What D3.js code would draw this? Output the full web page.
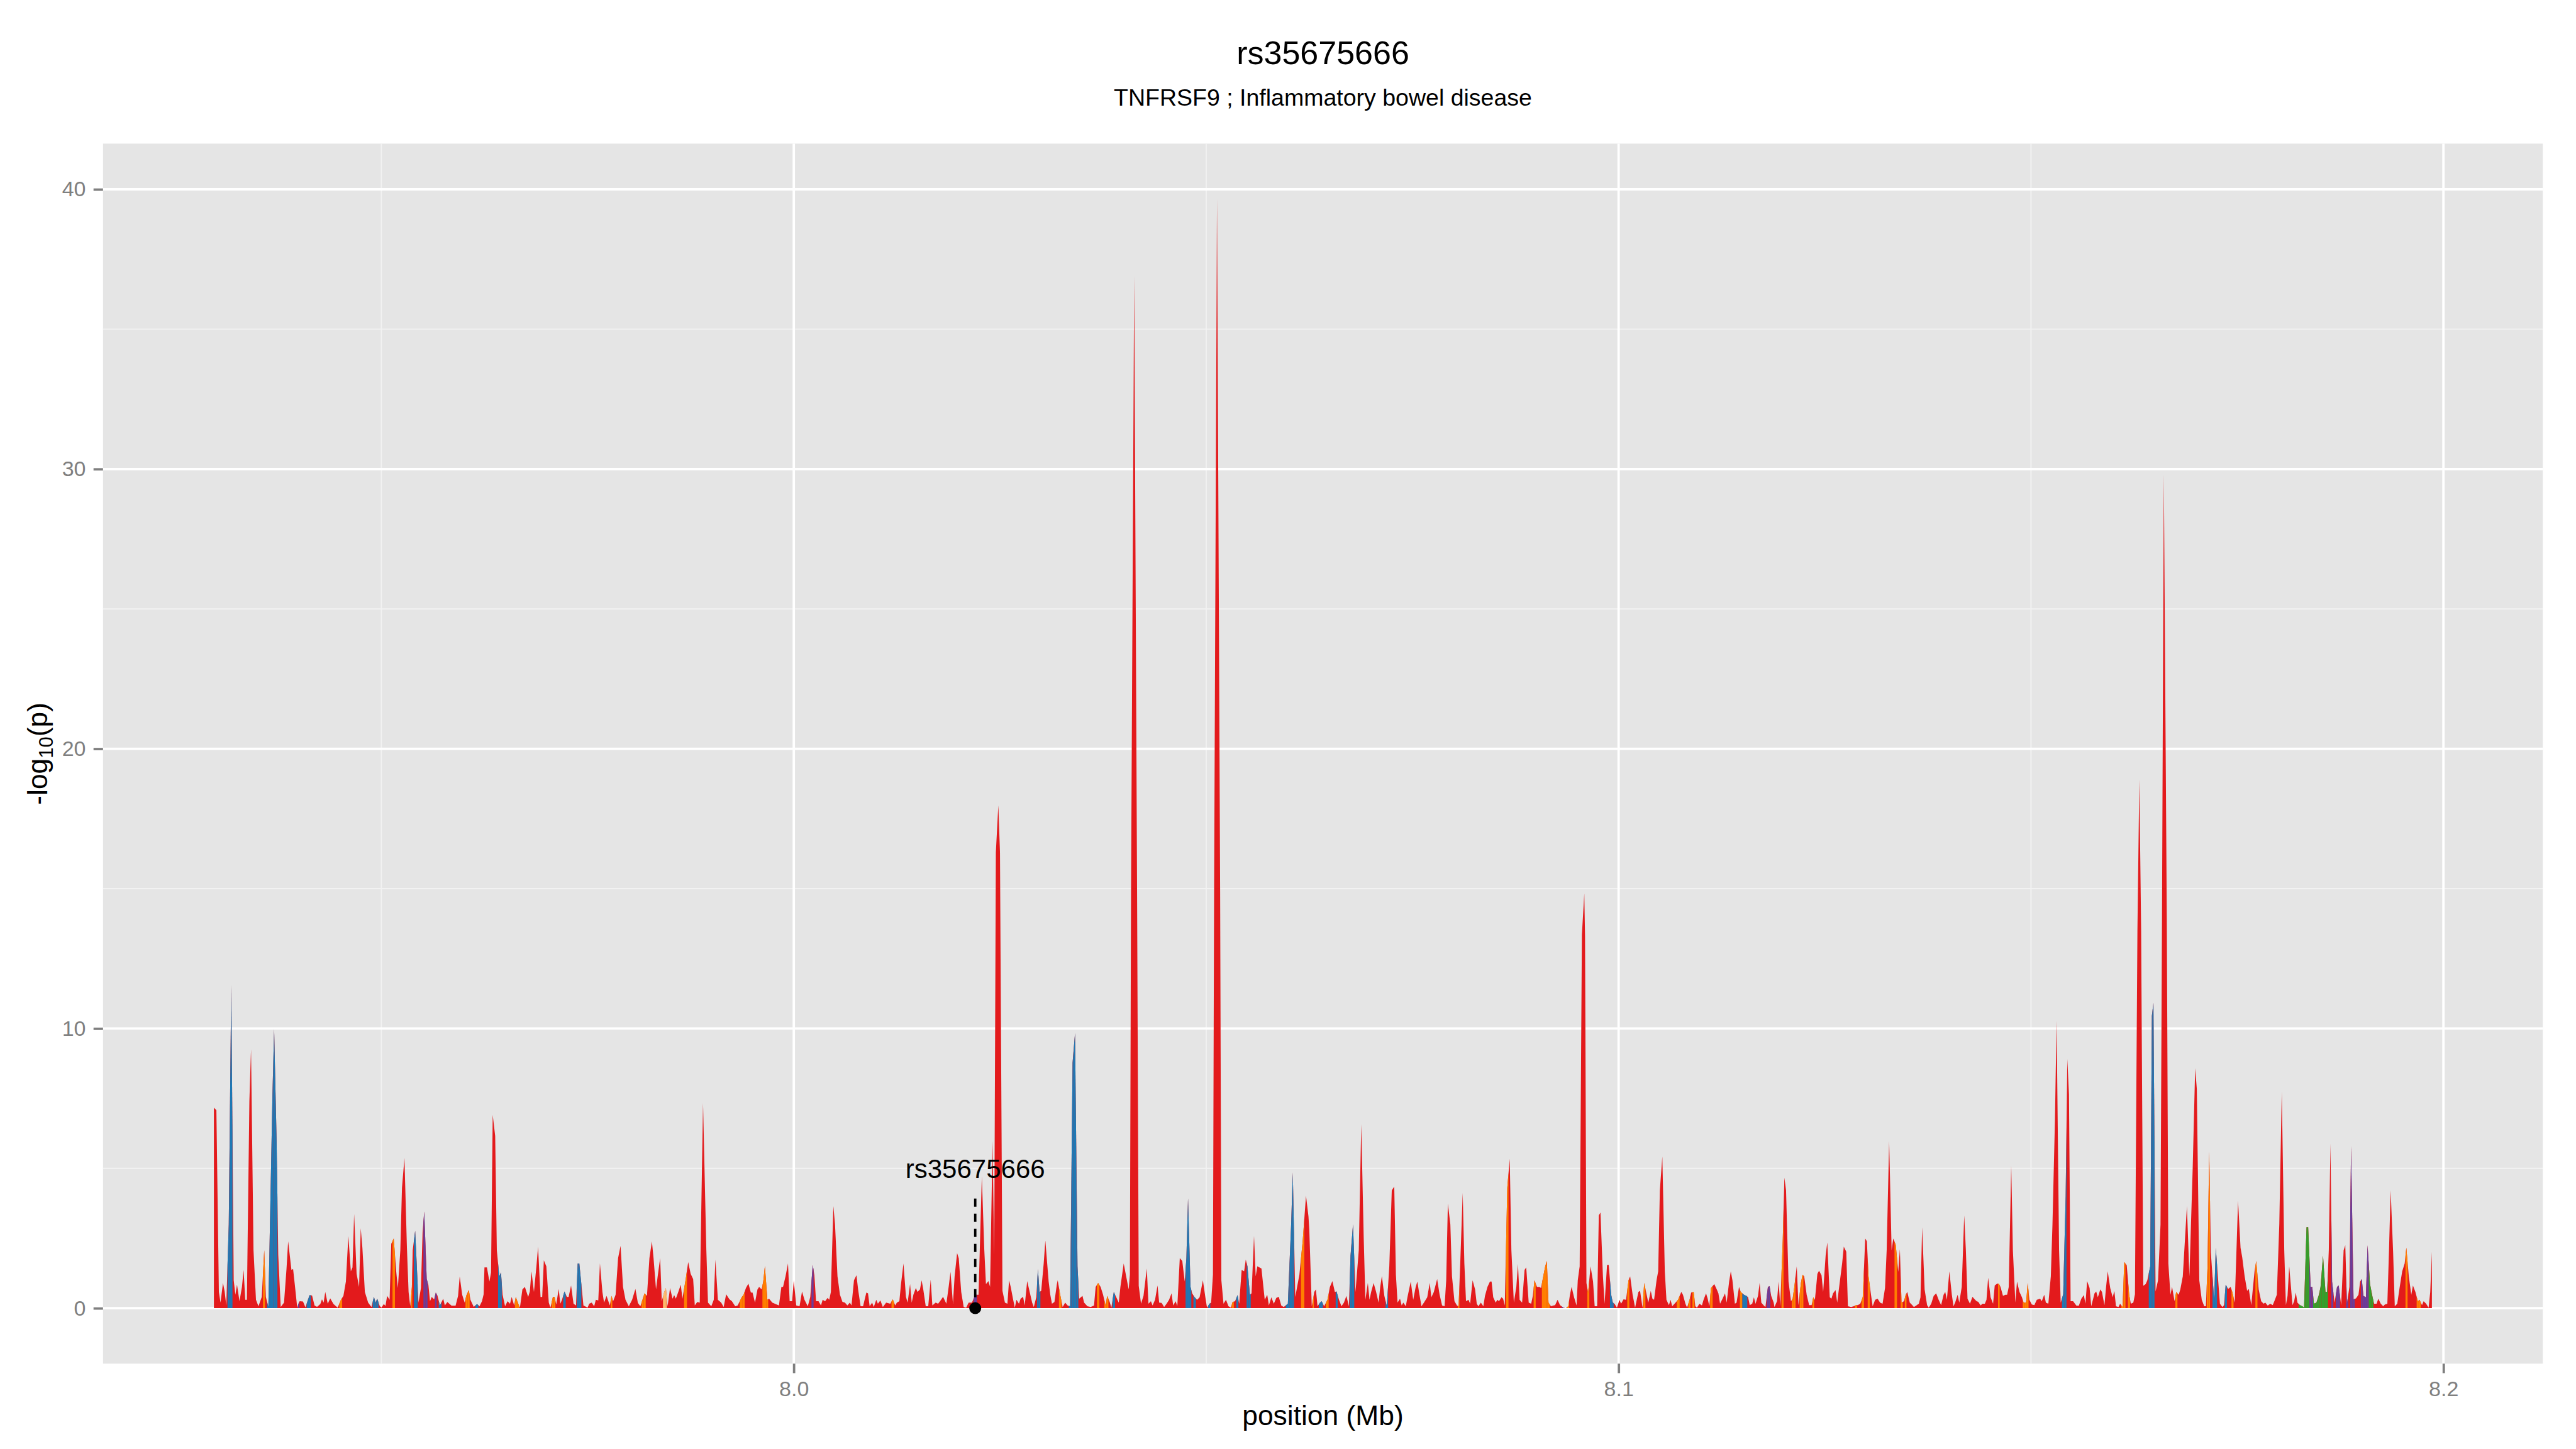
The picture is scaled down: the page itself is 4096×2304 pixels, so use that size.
<!DOCTYPE html>
<html>
<head>
<meta charset="utf-8">
<script src="https://cdn.jsdelivr.net/npm/d3@7"></script>
<style>
  html, body { margin: 0; padding: 0; background: #ffffff; }
  svg { display: block; font-family: "Liberation Sans", Arial, Helvetica, sans-serif; }
</style>
</head>
<body>
<div id="chart"></div>
<script>
const TITLE = "rs35675666"
const SUBTITLE = "TNFRSF9 ; Inflammatory bowel disease"
const LEAD_SNP = { name: "rs35675666", kb: 8022.0, logp: 0 }

// SNP positions (kb) and -log10(p) left to right
const kbA = [
  7929.7, 7930.0, 7930.3, 7930.5, 7930.8, 7931.0, 7931.2, 7931.5, 7931.8, 7932.1,
  7932.3, 7932.5, 7932.8, 7933.1, 7933.3, 7933.5, 7933.7, 7934.0, 7934.2, 7934.5,
  7934.8, 7935.1, 7935.5, 7935.8, 7936.0, 7936.3, 7936.8, 7937.0, 7937.3, 7937.5,
  7937.8, 7938.2, 7938.5, 7938.7, 7939.1, 7939.3, 7939.5, 7939.8, 7940.0, 7940.1,
  7940.5, 7940.8, 7941.1, 7941.3, 7941.6, 7941.9, 7942.2, 7942.6, 7942.8, 7943.0,
  7943.2, 7943.5, 7943.8, 7944.2, 7944.7, 7945.1, 7945.4, 7945.7, 7946.0, 7946.3,
  7946.5, 7946.7, 7947.0, 7947.3, 7947.5, 7947.7, 7948.0, 7948.4, 7948.8, 7949.1,
  7949.3, 7949.5, 7949.8, 7950.0, 7950.3, 7950.5, 7950.7, 7951.0, 7951.2, 7951.5,
  7951.8, 7952.0, 7952.3, 7952.5, 7952.8, 7953.1, 7953.3, 7953.5, 7953.7, 7953.8,
  7954.1, 7954.3, 7954.5, 7954.8, 7955.0, 7955.2, 7955.5, 7955.7, 7955.9, 7956.1,
  7956.4, 7956.6, 7956.8, 7957.1, 7957.5, 7957.7, 7958.0, 7958.5, 7959.0, 7959.3,
  7959.5, 7959.8, 7960.1, 7960.3, 7960.6, 7960.8, 7961.2, 7961.6, 7961.9, 7962.2,
  7962.4, 7962.5, 7962.8, 7963.1, 7963.3, 7963.5, 7963.8, 7964.0, 7964.3, 7964.5,
  7964.7, 7965.0, 7965.3, 7965.6, 7965.8, 7966.1, 7966.3, 7966.6, 7966.8, 7967.1,
  7967.4, 7967.8, 7968.0, 7968.2, 7968.5, 7968.8, 7969.0, 7969.3, 7969.5, 7969.7,
  7970.0, 7970.3, 7970.5, 7970.8, 7971.0, 7971.2, 7971.5, 7971.7, 7971.9, 7972.2,
  7972.5, 7972.7, 7973.0, 7973.3, 7973.6, 7973.8, 7974.0
]
const logpA = [
  7.17, 7.08, 0.58, 0.2, 0.9, 0.6, 0.1, 3.0, 11.56, 1.0,
  0.48, 0.84, 0.25, 0.76, 1.37, 0.3, 0.3, 7.4, 9.26, 2.07,
  0.3, 0.07, 0.4, 2.07, 0.4, 0.04, 7.65, 9.98, 6.0, 1.9,
  0.04, 0.2, 1.4, 2.39, 1.37, 1.4, 0.86, 0.02, 0.2, 0.25,
  0.24, 0.03, 0.3, 0.47, 0.45, 0.1, 0.05, 0.15, 0.32, 0.2,
  0.58, 0.16, 0.35, 0.15, 0.02, 0.3, 0.44, 0.95, 2.58, 1.32,
  1.46, 3.37, 1.23, 0.76, 2.86, 2.16, 0.58, 0.2, 0.04, 0.41,
  0.2, 0.34, 0.08, 0.02, 0.15, 0.08, 0.44, 0.3, 2.3, 2.49,
  1.32, 0.72, 2.07, 4.3, 5.37, 2.16, 0.58, 0.07, 0.76, 2.07,
  2.77, 1.5, 0.2, 0.72, 2.72, 3.46, 1.04, 0.84, 0.25, 0.4,
  0.32, 0.56, 0.45, 0.1, 0.34, 0.1, 0.22, 0.09, 0.09, 0.44,
  1.14, 0.48, 0.2, 0.45, 0.65, 0.3, 0.05, 0.15, 0.07, 0.25,
  0.5, 1.46, 1.46, 0.95, 1.28, 6.91, 6.16, 2.07, 1.14, 1.28,
  0.48, 0.07, 0.25, 0.16, 0.4, 0.1, 0.4, 0.16, 0.02, 0.67,
  0.76, 0.4, 0.6, 1.32, 0.58, 1.5, 2.2, 0.4, 0.4, 1.71,
  1.5, 0.2, 0.02, 0.41, 0.41, 0.13, 0.69, 0.16, 0.3, 0.6,
  0.4, 0.4, 0.81, 0.16, 0.1, 1.6, 1.6
]

const kbB = [
  7974.5, 7975.0, 7975.2, 7975.5, 7975.8, 7976.0, 7976.3, 7976.5, 7976.8, 7977.0,
  7977.3, 7977.7, 7977.9, 7978.1, 7978.4, 7978.7, 7979.0, 7979.3, 7979.6, 7980.0,
  7980.4, 7980.8, 7981.1, 7981.4, 7981.7, 7981.9, 7982.2, 7982.5, 7982.8, 7983.0,
  7983.3, 7983.5, 7983.8, 7984.0, 7984.3, 7984.5, 7984.7, 7985.0, 7985.3, 7985.5,
  7985.7, 7986.0, 7986.3, 7986.5, 7986.9, 7987.2, 7987.5, 7987.8, 7988.0, 7988.3,
  7988.6, 7989.0, 7989.4, 7989.6, 7990.0, 7990.3, 7990.5, 7990.8, 7991.2, 7991.5,
  7991.8, 7992.2, 7992.5, 7992.9, 7993.2, 7993.7, 7993.9, 7994.2, 7994.5, 7994.8,
  7995.0, 7995.3, 7995.6, 7995.8, 7996.1, 7996.3, 7996.5, 7996.8, 7997.0, 7997.4,
  7997.8, 7998.2, 7998.5, 7998.7, 7999.0, 7999.3, 7999.5, 7999.8, 8000.0, 8000.3,
  8000.7, 8001.0, 8001.3, 8001.7, 8002.0, 8002.3, 8002.5, 8002.7, 8003.0, 8003.3,
  8003.5, 8003.8, 8004.1, 8004.3, 8004.5, 8004.8, 8005.0, 8005.3, 8005.6, 8005.9,
  8006.2, 8006.5, 8006.8, 8007.0, 8007.3, 8007.6, 8007.8, 8008.1, 8008.4, 8008.8,
  8009.0, 8009.2, 8009.5, 8009.7, 8010.0, 8010.2, 8010.5, 8010.8, 8011.2, 8011.7,
  8012.0, 8012.3, 8012.5, 8012.8, 8013.0, 8013.3, 8013.6, 8013.8, 8014.1, 8014.3,
  8014.5, 8014.8, 8015.0, 8015.3, 8015.5, 8015.7, 8016.0, 8016.3, 8016.6, 8016.8,
  8017.2, 8017.5, 8017.8, 8018.1
]
const logpB = [
  0.1, 0.02, 0.16, 0.2, 0.07, 0.3, 0.28, 1.6, 0.58, 0.2,
  0.44, 0.1, 0.44, 0.25, 0.48, 1.79, 2.23, 0.76, 0.3, 0.07,
  0.3, 0.69, 0.19, 0.07, 0.34, 0.53, 0.44, 1.79, 2.39, 1.79,
  0.67, 1.14, 1.79, 0.25, 0.58, 0.72, 0.07, 0.72, 0.34, 0.47,
  0.34, 0.58, 0.84, 0.34, 1.04, 1.65, 1.23, 1.04, 0.1, 0.22,
  0.2, 7.33, 2.07, 0.2, 0.07, 0.3, 1.74, 0.3, 0.2, 0.04,
  0.5, 0.32, 0.25, 0.07, 0.1, 0.4, 0.47, 0.72, 0.88, 0.56,
  0.56, 0.2, 0.67, 0.76, 0.67, 0.95, 1.51, 0.3, 0.34, 0.2,
  0.15, 0.1, 0.76, 0.76, 1.14, 1.6, 0.25, 0.25, 1.0, 0.1,
  0.07, 0.6, 0.3, 0.07, 0.4, 1.55, 1.18, 0.25, 0.25, 0.1,
  0.3, 0.25, 0.37, 0.3, 0.58, 3.65, 3.0, 1.14, 0.48, 0.23,
  0.2, 0.1, 0.2, 0.1, 1.0, 1.18, 0.67, 0.07, 0.07, 0.56,
  0.53, 0.07, 0.2, 0.04, 0.3, 0.16, 0.28, 0.04, 0.2, 0.16,
  0.32, 0.1, 0.2, 0.25, 0.86, 1.6, 0.41, 0.2, 0.86, 0.2,
  0.48, 0.72, 0.58, 0.67, 1.0, 0.67, 0.07, 0.07, 1.02, 0.1,
  0.2, 0.16, 0.28, 0.41
]

const kbC = [
  8018.5, 8018.8, 8019.0, 8019.3, 8019.5, 8019.8, 8020.0, 8020.3, 8020.6, 8020.9,
  8021.2, 8021.6, 8022.0, 8022.4, 8022.8, 8023.1, 8023.3, 8023.6, 8023.8, 8024.1,
  8024.3, 8024.5, 8024.8, 8025.0, 8025.3, 8025.6, 8025.9, 8026.1, 8026.3, 8026.6,
  8026.8, 8027.0, 8027.3, 8027.5, 8027.8, 8028.0, 8028.3, 8028.6, 8028.9, 8029.1,
  8029.4, 8029.6, 8029.8, 8030.0, 8030.3, 8030.5, 8030.9, 8031.1, 8031.3, 8031.6,
  8031.9, 8032.0, 8032.3, 8032.6, 8032.9, 8033.2, 8033.5, 8033.8, 8034.1, 8034.4,
  8034.6, 8035.0, 8035.2, 8035.6, 8036.0, 8036.4, 8036.6, 8036.9, 8037.2, 8037.5,
  8037.8, 8038.0, 8038.3, 8038.5, 8038.8, 8039.1, 8039.4, 8039.6, 8040.0, 8040.3,
  8040.6, 8040.75, 8040.89, 8041.27, 8041.62, 8041.82, 8042.1, 8042.4, 8042.8, 8043.0,
  8043.3, 8043.5, 8043.8, 8044.1, 8044.3, 8044.6, 8044.9, 8045.2, 8045.5, 8045.8,
  8046.0, 8046.3, 8046.5, 8046.8, 8047.1, 8047.4, 8047.6, 8047.8, 8048.1, 8048.3,
  8048.6, 8048.9, 8049.2, 8049.6, 8049.9, 8050.1, 8050.4, 8050.6, 8050.82, 8050.96,
  8051.31, 8051.69, 8051.84, 8052.1, 8052.4, 8052.7, 8053.0, 8053.2, 8053.5, 8053.8,
  8054.0, 8054.3, 8054.6, 8054.8, 8055.0, 8055.3, 8055.5, 8055.8, 8056.0, 8056.2,
  8056.7, 8057.1, 8057.4, 8057.6, 8057.9, 8058.2, 8058.5, 8058.8, 8059.1, 8059.4,
  8059.9, 8060.3, 8060.5, 8060.8, 8061.3, 8061.7, 8062.1
]
const logpC = [
  0.16, 0.81, 1.3, 0.16, 1.14, 1.97, 1.79, 0.58, 0.04, 0.02,
  0.2, 0.2, 0.48, 0.48, 4.72, 2.07, 0.86, 0.97, 0.76, 5.98,
  1.9, 16.3, 17.98, 16.3, 0.62, 0.2, 0.16, 1.0, 0.76, 0.3,
  0.02, 0.3, 0.16, 0.34, 0.41, 0.1, 0.97, 0.58, 0.2, 0.04,
  0.39, 1.4, 0.58, 0.62, 1.6, 2.42, 0.95, 0.48, 0.16, 0.22,
  0.86, 1.0, 0.48, 0.04, 0.2, 0.1, 0.07, 8.77, 9.84, 1.5,
  0.34, 0.44, 0.2, 0.07, 0.04, 0.1, 0.76, 0.9, 0.76, 0.48,
  0.1, 0.44, 0.22, 0.02, 0.58, 0.39, 0.2, 0.76, 1.6, 1.14,
  0.67, 1.2, 15, 36.9, 15, 0.8, 0.16, 0.44, 1.42, 0.16,
  0.25, 0.1, 0.3, 0.81, 0.2, 0.19, 0.04, 0.16, 0.3, 0.53,
  0.1, 0.25, 0.07, 1.79, 1.69, 0.95, 1.79, 3.93, 0.76, 0.53,
  0.39, 0.3, 0.39, 1.0, 0.39, 0.02, 0.16, 0.2, 1.2, 15,
  39.65, 15, 1.0, 0.16, 0.3, 0.07, 0.02, 0.22, 0.25, 0.47,
  0.16, 1.37, 1.32, 1.74, 1.5, 0.48, 0.53, 2.58, 1.14, 1.5,
  1.42, 0.3, 0.48, 0.1, 0.39, 0.16, 0.37, 0.41, 0.1, 0.04,
  0.16, 3.0, 4.86, 0.4, 1.2, 2.4, 4.02
]

const kbD = [
  8062.4, 8062.5, 8062.8, 8063.0, 8063.1, 8063.3, 8063.5, 8063.8, 8064.0, 8064.3,
  8064.7, 8065.0, 8065.3, 8065.6, 8065.8, 8066.1, 8066.4, 8066.7, 8067.0, 8067.3,
  8067.5, 8067.8, 8068.1, 8068.5, 8068.8, 8069.1, 8069.3, 8069.6, 8069.8, 8070.0,
  8070.3, 8070.6, 8070.9, 8071.1, 8071.3, 8071.6, 8071.9, 8072.2, 8072.5, 8072.8,
  8073.0, 8073.2, 8073.5, 8073.7, 8073.9, 8074.2, 8074.4, 8074.8, 8075.1, 8075.4,
  8075.6, 8075.8, 8076.1, 8076.4, 8076.8, 8077.1, 8077.3, 8077.6, 8078.0, 8078.3,
  8078.6, 8078.9, 8079.1, 8079.3, 8079.6, 8079.8, 8080.1, 8080.4, 8080.6, 8080.8,
  8081.1, 8081.3, 8081.5, 8081.8, 8082.0, 8082.3, 8082.6, 8082.8, 8083.0, 8083.3,
  8083.6, 8083.8, 8084.1, 8084.4, 8084.6, 8084.8, 8085.1, 8085.3, 8085.5, 8085.8,
  8086.0, 8086.2, 8086.5, 8086.8, 8087.0, 8087.3, 8087.6, 8087.8, 8088.0, 8088.3,
  8088.6, 8088.8, 8089.1, 8089.4, 8089.6, 8089.8, 8090.1, 8090.4, 8090.6, 8090.8,
  8091.1, 8091.3, 8091.5, 8091.8, 8092.1, 8092.3, 8092.6, 8092.9, 8093.3, 8093.6,
  8093.9, 8094.1, 8094.3, 8094.6, 8094.9, 8095.05, 8095.28, 8095.55, 8095.84, 8095.93,
  8096.1, 8096.3, 8096.6, 8096.9, 8097.1, 8097.4, 8097.6, 8097.8, 8098.1, 8098.3,
  8098.6, 8098.8, 8099.1, 8099.3, 8099.5, 8099.8, 8100.1, 8100.3, 8100.6, 8100.9,
  8101.2, 8101.4, 8101.7, 8102.0, 8102.4, 8102.6, 8102.9, 8103.1, 8103.4, 8103.6,
  8103.9, 8104.1, 8104.3, 8104.6, 8104.8, 8105.0, 8105.3, 8105.6, 8105.8, 8106.1,
  8106.3, 8106.5
]
const logpD = [
  3.28, 2.81, 0.07, 0.39, 0.58, 0.67, 0.07, 0.2, 0.25, 0.07,
  0.3, 0.76, 0.97, 0.58, 0.6, 0.3, 0.07, 0.2, 0.44, 0.07,
  1.88, 3.0, 0.58, 2.07, 6.58, 2.5, 0.3, 0.9, 0.3, 0.58,
  0.9, 0.58, 0.2, 0.76, 1.15, 0.44, 0.07, 1.5, 4.21, 4.35,
  1.2, 0.2, 0.34, 0.1, 0.2, 0.07, 0.39, 0.95, 0.3, 0.76,
  0.95, 0.58, 0.07, 0.2, 0.39, 0.9, 0.39, 0.58, 1.04, 0.48,
  0.1, 0.07, 1.0, 3.74, 3.0, 1.14, 0.25, 0.1, 0.07, 1.6,
  4.12, 1.6, 0.25, 0.3, 0.16, 1.0, 0.67, 0.16, 0.07, 0.2,
  0.07, 0.44, 0.76, 0.95, 0.95, 0.39, 0.2, 0.3, 0.25, 0.39,
  0.34, 0.1, 4.3, 5.34, 2.07, 0.2, 0.76, 1.58, 0.3, 0.2,
  1.37, 1.46, 0.2, 0.16, 0.44, 1.0, 0.76, 0.76, 0.72, 1.04,
  1.5, 1.69, 0.2, 0.07, 0.1, 0.11, 0.3, 0.11, 0.02, 0,
  0.07, 0.48, 0.76, 0.39, 0.1, 1.0, 1.5, 13.35, 14.83, 13.3,
  0.9, 0.55, 1.5, 0.95, 0.07, 0.07, 3.32, 3.42, 1.14, 0.16,
  1.55, 1.55, 0.48, 0.2, 0.16, 0.02, 0.3, 0.16, 0.32, 0.3,
  1.0, 1.14, 0.48, 0.02, 0.58, 0.62, 0.02, 0.9, 0.48, 0.2,
  0.62, 0.34, 0.3, 1.0, 1.32, 4.21, 5.42, 1.32, 0.3, 0.11,
  0.3, 0.07
]

const kbE = [
  8106.9, 8107.2, 8107.6, 8107.8, 8108.1, 8108.3, 8108.6, 8108.8, 8109.1, 8109.3,
  8109.5, 8109.8, 8110.1, 8110.3, 8110.6, 8110.8, 8111.0, 8111.2, 8111.6, 8111.9,
  8112.1, 8112.3, 8112.6, 8112.9, 8113.1, 8113.4, 8113.6, 8113.8, 8114.1, 8114.3,
  8114.6, 8114.8, 8115.2, 8115.5, 8115.7, 8115.9, 8116.2, 8116.4, 8116.6, 8116.9,
  8117.1, 8117.3, 8117.6, 8117.8, 8118.1, 8118.3, 8118.5, 8118.8, 8118.9, 8119.2,
  8119.4, 8119.6, 8119.9, 8120.1, 8120.3, 8120.6, 8120.9, 8121.1, 8121.3, 8121.6,
  8121.8, 8122.1, 8122.3, 8122.5, 8122.8, 8123.1, 8123.4, 8123.6, 8123.8, 8124.1,
  8124.3, 8124.6, 8124.8, 8125.1, 8125.3, 8125.6, 8125.8, 8126.0, 8126.3, 8126.5,
  8126.8, 8127.1, 8127.3, 8127.6, 8127.8, 8128.2, 8128.5, 8128.8, 8129.0, 8129.3,
  8129.6, 8129.9, 8130.1, 8130.3, 8130.6, 8130.8, 8131.1, 8131.4, 8131.7, 8132.0,
  8132.3, 8132.5, 8132.8, 8133.1, 8133.3, 8133.6, 8133.9, 8134.1, 8134.3, 8134.6,
  8134.8, 8135.0, 8135.3, 8135.6, 8135.8, 8136.1, 8136.4, 8136.6, 8136.8, 8137.1,
  8137.4, 8137.6, 8137.9, 8138.2, 8138.5, 8138.8, 8139.1, 8139.4, 8139.6, 8139.8,
  8140.1, 8140.4, 8140.6, 8140.8, 8141.1, 8141.3, 8141.6, 8141.9, 8142.1, 8142.3,
  8142.6, 8142.9, 8143.1, 8143.4, 8143.6, 8143.9, 8144.1, 8144.4, 8144.6, 8144.8,
  8145.1, 8145.4, 8145.6, 8145.9, 8146.1, 8146.3, 8146.6, 8146.9, 8147.1, 8147.3,
  8147.6, 8147.8, 8148.1, 8148.3, 8148.6, 8148.9, 8149.1, 8149.4, 8149.6, 8149.8,
  8150.1, 8150.4, 8150.7
]
const logpE = [
  0.2, 0.3, 0.58, 0.48, 0.16, 0.02, 0.3, 0.56, 0.58, 0.07,
  0.02, 0.16, 0.1, 0.3, 0.53, 0.34, 0.07, 0.72, 0.86, 0.67,
  0.53, 0.16, 0.34, 0.53, 0.2, 0.95, 1.32, 1.0, 0.16, 0.2,
  0.76, 0.58, 0.48, 0.44, 0.39, 0.11, 0.16, 0.39, 0.16, 0.44,
  0.9, 0.2, 0.1, 0.04, 0.76, 0.79, 0.44, 0.2, 0.04, 0.25,
  0.95, 0.07, 2.44, 4.67, 4.21, 0.95, 0.25, 0.34, 0.76, 1.5,
  0.11, 0.9, 1.2, 1.14, 0.48, 0.11, 0.11, 0.39, 0.3, 1.23,
  1.34, 1.18, 0.58, 1.88, 2.35, 0.39, 0.34, 0.53, 0.65, 0.2,
  0.9, 1.6, 2.2, 2.02, 0.07, 0.04, 0.07, 0.11, 0.11, 0.16,
  0.4, 2.49, 2.39, 1.14, 0.48, 0.07, 0.3, 0.34, 0.2, 0.16,
  0.72, 2.07, 5.98, 2.07, 2.49, 2.27, 1.3, 2.11, 0.2, 0.25,
  0.48, 0.58, 0.2, 0.11, 0.04, 0.1, 0.16, 0.39, 2.9, 0.67,
  0.11, 0.02, 0.16, 0.44, 0.53, 0.3, 0.11, 0.48, 0.58, 0.3,
  1.32, 0.48, 0.07, 0.2, 0.48, 0.2, 0.76, 3.32, 2.07, 0.34,
  0.16, 0.41, 0.34, 0.25, 0.23, 0.1, 0.16, 0.16, 0.3, 1.09,
  0.39, 0.16, 0.81, 0.88, 0.88, 0.76, 0.44, 0.48, 0.48, 0.76,
  5.09, 2.07, 0.2, 0.95, 0.58, 0.39, 0.2, 0.2, 0.9, 0.3,
  0.13, 0.11, 0.3
]

const kbF = [
  8151.1, 8151.3, 8151.6, 8151.8, 8152.1, 8152.4, 8152.6, 8152.9, 8153.1, 8153.4,
  8153.6, 8153.9, 8154.2, 8154.4, 8154.6, 8154.8, 8155.1, 8155.5, 8155.8, 8156.1,
  8156.4, 8156.6, 8156.8, 8157.1, 8157.3, 8157.7, 8157.9, 8158.1, 8158.4, 8158.6,
  8158.9, 8159.1, 8159.3, 8159.6, 8159.9, 8160.1, 8160.3, 8160.6, 8160.8, 8161.1,
  8161.3, 8161.6, 8161.9, 8162.1, 8162.4, 8162.6, 8162.9, 8163.13, 8163.35, 8163.61,
  8163.9, 8164.1, 8164.45, 8164.65, 8164.84, 8165.1, 8165.4, 8165.7, 8165.88, 8166.1,
  8166.46, 8166.65, 8166.9, 8167.1, 8167.4, 8167.6, 8167.9, 8168.1, 8168.4, 8168.9,
  8169.2, 8169.6, 8169.9, 8170.1, 8170.4, 8170.7, 8171.0, 8171.2, 8171.4, 8171.6,
  8171.8, 8172.2, 8172.4, 8172.7, 8172.9, 8173.2, 8173.4, 8173.6, 8173.9, 8174.2,
  8174.4, 8174.7, 8174.9, 8175.1, 8175.4, 8175.6, 8175.9, 8176.2, 8176.4, 8176.7,
  8177.1, 8177.3, 8177.6, 8177.9, 8178.2, 8178.4, 8178.7, 8179.0, 8179.3, 8179.5,
  8179.8, 8180.1, 8180.4, 8180.7, 8180.9, 8181.1, 8181.3, 8181.7, 8181.9, 8182.1,
  8182.3, 8182.6, 8182.9, 8183.1, 8183.4, 8183.6, 8183.9, 8184.1, 8184.3, 8184.6,
  8184.9, 8185.1, 8185.4, 8185.7, 8185.9, 8186.1, 8186.3, 8186.5, 8186.8, 8187.1,
  8187.3, 8187.6, 8187.9, 8188.1, 8188.3, 8188.6, 8188.8, 8189.1, 8189.4, 8189.7,
  8189.9, 8190.1, 8190.3, 8190.6, 8190.8, 8191.1, 8191.4, 8191.6, 8191.9, 8192.1,
  8192.4, 8192.7, 8192.9, 8193.2, 8193.4, 8193.6, 8193.9, 8194.1, 8194.4, 8194.7,
  8195.0, 8195.3, 8195.5, 8195.8, 8196.1, 8196.3, 8196.6, 8196.9, 8197.1, 8197.4,
  8197.6, 8197.9, 8198.2, 8198.4, 8198.6
]
const logpF = [
  0.34, 0.25, 0.48, 0.2, 0.16, 1.14, 3.0, 6.72, 10.28, 2.07,
  0.2, 0.5, 4.0, 8.91, 7.65, 0.25, 0.25, 0.09, 0.09, 0.34,
  0.47, 0.16, 0.97, 0.72, 0.07, 0.53, 0.6, 0.39, 0.67, 0.58,
  0.11, 0.76, 1.32, 0.72, 0.39, 0.62, 0.07, 0.04, 0.16, 0.04,
  1.65, 1.54, 0.48, 0.16, 0.2, 0.5, 13.5, 18.9, 13.5, 0.8,
  0.86, 1.0, 1.5, 10.45, 10.91, 0.6, 1.0, 3.0, 14, 29.8,
  14, 1.6, 0.48, 0.76, 0.25, 0.58, 0.48, 0.67, 1.14, 3.65,
  1.14, 5.0, 8.58, 7.84, 1.0, 0.3, 0.07, 0.07, 1.5, 5.6,
  2.0, 0.3, 2.16, 0.95, 0.16, 0.04, 0.11, 0.84, 0.69, 0.76,
  0.58, 0.2, 2.0, 3.84, 2.16, 1.83, 1.14, 0.62, 0.69, 0.11,
  1.32, 1.69, 0.67, 0.25, 0.16, 0.2, 0.09, 0.16, 0.11, 0.25,
  0.48, 3.0, 7.75, 2.07, 0.11, 0.44, 1.5, 0.11, 0.25, 0.56,
  0.2, 0.11, 0.07, 0.02, 2.9, 2.9, 0.76, 0.76, 0.16, 0.2,
  0.48, 0.76, 1.88, 0.58, 0.58, 2.07, 5.88, 0.95, 0.2, 0.76,
  0.81, 0.11, 2.07, 2.25, 0.16, 0.76, 5.8, 0.32, 0.35, 0.48,
  0.95, 1.04, 0.44, 0.39, 2.25, 0.86, 0.41, 0.16, 0.16, 0.34,
  0.16, 0.07, 0.13, 0.16, 2.07, 4.21, 2.0, 0.07, 0.16, 0.76,
  1.32, 1.6, 2.16, 1.14, 0.48, 0.81, 0.58, 0.25, 0.3, 0.11,
  0.25, 0.16, 0.02, 0.58, 2.02
]

// SNPs not in the top LD bin (everything else is drawn in red)
const ldBlueKb = [
  7931.5, 7931.8, 7936.3, 7936.8, 7937.0, 7937.3, 7941.1, 7941.3, 7949.1, 7949.3,
  7949.5, 7954.1, 7954.3, 7957.1, 7961.6, 7964.3, 7964.5, 7972.2, 7973.8, 7974.0,
  8029.6, 8029.8, 8033.5, 8033.8, 8034.1, 8034.4, 8038.8, 8047.6, 8047.8, 8048.1,
  8048.6, 8050.4, 8053.8, 8055.0, 8055.3, 8059.9, 8060.3, 8060.5, 8063.8, 8064.0,
  8065.8, 8067.5, 8067.8, 8071.9, 8099.1, 8099.3, 8115.2, 8115.5, 8153.9, 8154.2,
  8164.45, 8164.65, 8164.84, 8172.2, 8172.4, 8173.6
]
const ldOrangeKb = [
  7935.8, 7945.1, 7951.5, 7953.7, 7960.3, 7960.6, 7966.3, 7966.6, 7970.8, 7971.0,
  7977.9, 7981.7, 7981.9, 7986.9, 7993.7, 7993.9, 7996.3, 7996.5, 7996.8, 8012.0,
  8032.3, 8036.9, 8037.8, 8038.0, 8053.2, 8061.7, 8063.0, 8064.7, 8080.6, 8086.5,
  8089.8, 8090.8, 8091.1, 8091.3, 8091.5, 8093.9, 8096.3, 8101.2, 8103.1, 8107.2,
  8108.6, 8109.1, 8111.2, 8114.8, 8119.9, 8121.1, 8121.3, 8122.1, 8122.3, 8123.6,
  8128.8, 8129.6, 8130.3, 8133.6, 8134.3, 8134.8, 8146.1, 8149.1, 8149.4, 8149.6,
  8161.1, 8161.3, 8161.9, 8167.6, 8171.4, 8171.6, 8174.4, 8177.3, 8195.5, 8196.9,
  8197.1
]
const ldPaleOrangeKb = [7984.3, 7984.5]
const ldPurpleKb = [
  7940.0, 7955.2, 7955.5, 7956.6, 8002.3, 8022.0, 8093.3, 8118.1, 8118.3, 8183.9,
  8184.1, 8186.5, 8187.1, 8187.3, 8188.3, 8188.8, 8189.1, 8190.1, 8190.3, 8190.6,
  8190.8
]
const ldGreenKb = [
  8182.6, 8182.9, 8183.1, 8183.4, 8183.6, 8184.3, 8184.6, 8184.9, 8185.1, 8185.4,
  8185.7, 8185.9, 8191.1, 8191.4
]

const xTicks = [8.0, 8.1, 8.2]
const xMinorTicks = [7.95, 8.05, 8.15]
const yTicks = [0, 10, 20, 30, 40]
const yMinorTicks = [5, 15, 25, 35]

const LD_FILL = {
  high: "#E31A1C",
  blue: "#1F78B4",
  orange: "#FF7F00",
  paleOrange: "#FDBF6F",
  purple: "#6A3D9A",
  green: "#33A02C"
}

const W = 4096, H = 2304
const margin = {top: 228.4, right: 52.8, bottom: 135.7, left: 163.8}
const width = W - margin.left - margin.right
const height = H - margin.top - margin.bottom
const GREY50 = "#7F7F7F"

const positionKb = [].concat(kbA, kbB, kbC, kbD, kbE, kbF)
const minusLog10P = [].concat(logpA, logpB, logpC, logpD, logpE, logpF)
if (positionKb.length != minusLog10P.length) {
  console.error("positions and values differ in length", positionKb.length, minusLog10P.length)
}

const binSets = [
  ["blue", new Set(ldBlueKb)],
  ["orange", new Set(ldOrangeKb)],
  ["paleOrange", new Set(ldPaleOrangeKb)],
  ["purple", new Set(ldPurpleKb)],
  ["green", new Set(ldGreenKb)]
]
function binOf(kb) {
  for (let [name, s] of binSets) {
    if (s.has(kb)) return name
  }
  return "high"
}

const snps = positionKb.map((kb, i) => ({ mb: kb / 1000, logp: minusLog10P[i], bin: binOf(kb) }))

// ggplot-style 5% expansion on both axes
const xExt = d3.extent(snps, d => d.mb)
const xPad = (xExt[1] - xExt[0]) * 0.05
const x = d3.scaleLinear().domain([xExt[0] - xPad, xExt[1] + xPad]).range([0, width])
const yMax = d3.max(snps, d => d.logp)
const y = d3.scaleLinear().domain([-yMax * 0.05, yMax * 1.05]).range([height, 0])

const svg = d3.select("#chart").append("svg")
  .attr("width", W)
  .attr("height", H)

svg.append("rect").attr("width", W).attr("height", H).attr("fill", "#ffffff")

const g = svg.append("g")
  .attr("transform", "translate(" + margin.left + "," + margin.top + ")")

// panel + grid
g.append("rect")
  .attr("width", width)
  .attr("height", height)
  .attr("fill", "#E5E5E5")

g.selectAll(".xminor").data(xMinorTicks).enter().append("line")
  .attr("x1", d => x(d)).attr("x2", d => x(d))
  .attr("y1", 0).attr("y2", height)
  .attr("stroke", "#F2F2F2").attr("stroke-width", 1.9)
g.selectAll(".yminor").data(yMinorTicks).enter().append("line")
  .attr("x1", 0).attr("x2", width)
  .attr("y1", d => y(d)).attr("y2", d => y(d))
  .attr("stroke", "#F2F2F2").attr("stroke-width", 1.9)
g.selectAll(".xmajor").data(xTicks).enter().append("line")
  .attr("x1", d => x(d)).attr("x2", d => x(d))
  .attr("y1", 0).attr("y2", height)
  .attr("stroke", "#ffffff").attr("stroke-width", 3.8)
g.selectAll(".ymajor").data(yTicks).enter().append("line")
  .attr("x1", 0).attr("x2", width)
  .attr("y1", d => y(d)).attr("y2", d => y(d))
  .attr("stroke", "#ffffff").attr("stroke-width", 3.8)

// the signal as one filled area
const area = d3.area()
  .x(d => x(d.mb))
  .y0(y(0))
  .y1(d => y(d.logp))

g.append("path")
  .datum(snps)
  .attr("fill", LD_FILL.high)
  .attr("d", area)

// lower LD bins: recolour the stretch of area around each of those SNPs
let patches = []
snps.forEach((d, i) => {
  if (d.bin == "high") return
  let prev = snps[i - 1], next = snps[i + 1]
  let pts = []
  pts.push(prev ? { mb: (prev.mb + d.mb) / 2, logp: (prev.logp + d.logp) / 2 } : d)
  pts.push(d)
  pts.push(next ? { mb: (next.mb + d.mb) / 2, logp: (next.logp + d.logp) / 2 } : d)
  patches.push({ bin: d.bin, pts: pts })
})
g.selectAll(".ldpatch").data(patches).enter().append("path")
  .attr("class", "ldpatch")
  .attr("fill", d => LD_FILL[d.bin])
  .attr("d", d => area(d.pts))

// lead SNP marker
const leadX = x(LEAD_SNP.kb / 1000)
g.append("line")
  .attr("x1", leadX).attr("x2", leadX)
  .attr("y1", y(3.92)).attr("y2", y(LEAD_SNP.logp))
  .attr("stroke", "#000000")
  .attr("stroke-width", 3.8)
  .attr("stroke-dasharray", "13 11")
g.append("circle")
  .attr("cx", leadX).attr("cy", y(LEAD_SNP.logp))
  .attr("r", 9.5)
  .attr("fill", "#000000")
g.append("text")
  .attr("x", leadX).attr("y", y(4.65))
  .attr("text-anchor", "middle")
  .attr("font-size", 42)
  .attr("fill", "#000000")
  .text(LEAD_SNP.name)

// axes
const xAxis = g.append("g")
  .attr("transform", "translate(0," + height + ")")
  .call(d3.axisBottom(x).tickValues(xTicks).tickFormat(d3.format(".1f")).tickSize(15.1).tickPadding(12))
const yAxis = g.append("g")
  .call(d3.axisLeft(y).tickValues(yTicks).tickFormat(d3.format("d")).tickSize(15.1).tickPadding(12.2))

for (let ax of [xAxis, yAxis]) {
  ax.select(".domain").remove()
  ax.attr("font-family", null).attr("font-size", null)
  ax.selectAll(".tick line").attr("stroke", GREY50).attr("stroke-width", 3.8)
  ax.selectAll(".tick text").attr("fill", GREY50).attr("font-size", 34)
}

// titles
svg.append("text")
  .attr("x", margin.left + width / 2).attr("y", 102.4)
  .attr("text-anchor", "middle")
  .attr("font-size", 52)
  .text(TITLE)
svg.append("text")
  .attr("x", margin.left + width / 2).attr("y", 167.8)
  .attr("text-anchor", "middle")
  .attr("font-size", 37.5)
  .text(SUBTITLE)

svg.append("text")
  .attr("x", margin.left + width / 2).attr("y", 2266)
  .attr("text-anchor", "middle")
  .attr("font-size", 44.4)
  .text("position (Mb)")

const yTitle = svg.append("text")
  .attr("transform", "translate(75.3," + (margin.top + height / 2) + ") rotate(-90)")
  .attr("text-anchor", "middle")
  .attr("font-size", 44.4)
yTitle.append("tspan").text("-log")
yTitle.append("tspan").attr("font-size", 31).attr("dy", 9).text("10")
yTitle.append("tspan").attr("dy", -9).text("(p)")
</script>
</body>
</html>
